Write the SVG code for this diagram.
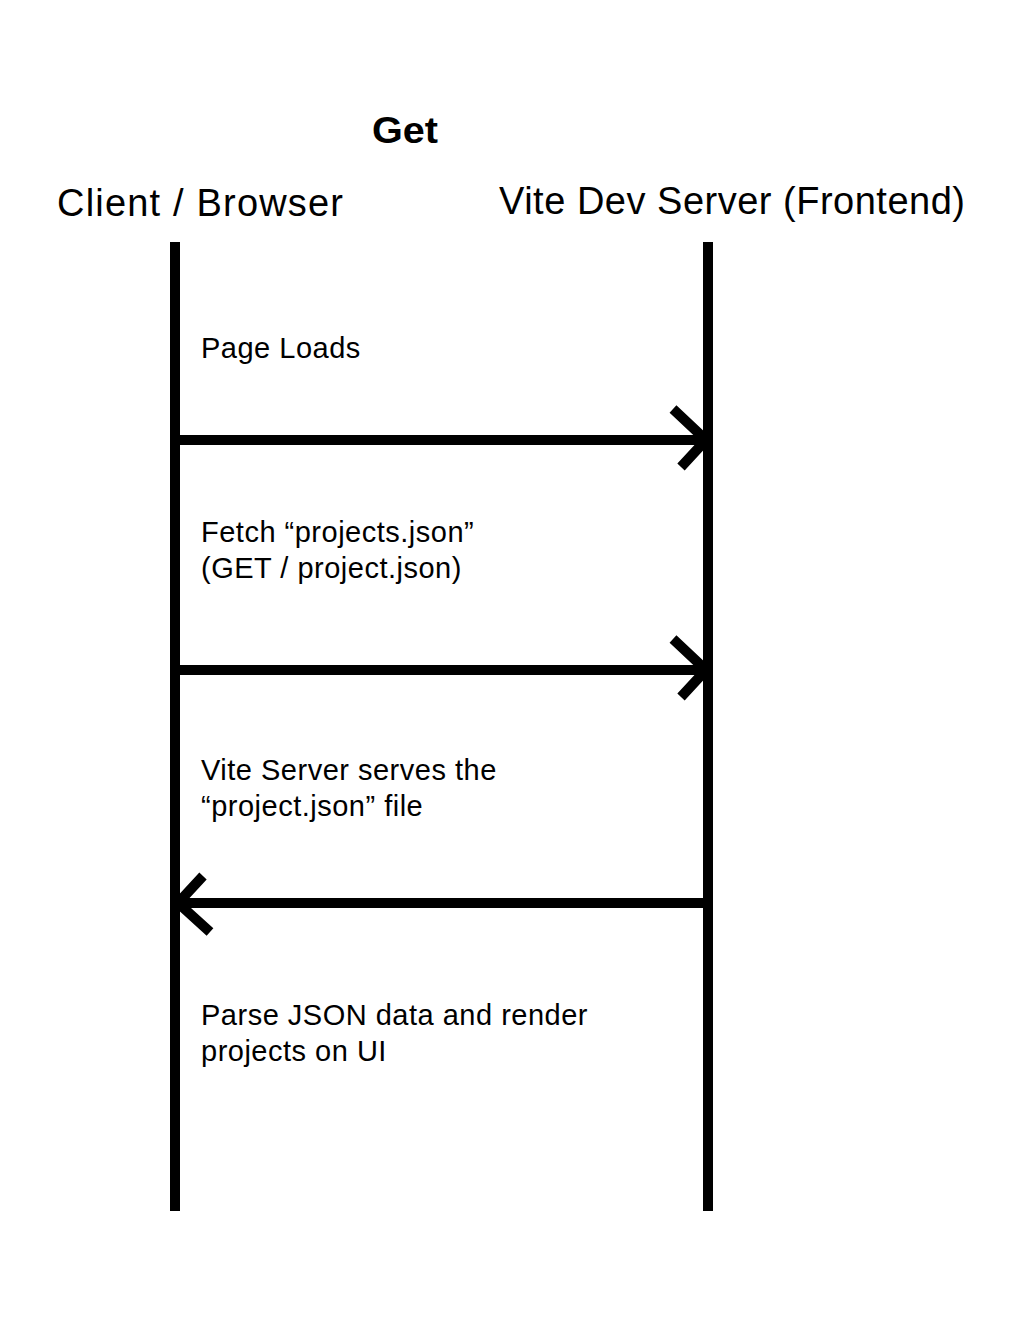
<svg xmlns="http://www.w3.org/2000/svg" width="1016" height="1320" viewBox="0 0 1016 1320">
<style>
.hdr{font-family:"Liberation Sans",Arial,sans-serif;font-size:38px;fill:#000}
.ttl{font-family:"Liberation Sans",Arial,sans-serif;font-size:37px;font-weight:bold;fill:#000}
.lbl{font-family:"Liberation Sans",Arial,sans-serif;font-size:29px;letter-spacing:0.5px;fill:#000}
.life{stroke:#000;stroke-width:10;fill:none}
.msg{stroke:#000;stroke-width:10;fill:none}
.head{stroke:#000;stroke-width:10;fill:none;stroke-linecap:butt;stroke-linejoin:miter}
</style>
<rect width="1016" height="1320" fill="#fff"/>
<g id="title"><text class="ttl" x="372" y="143" textLength="66" lengthAdjust="spacingAndGlyphs">Get</text></g>
<g id="client">
<text class="hdr" x="57" y="216" textLength="286">Client / Browser</text>
<line class="life" x1="175" y1="242" x2="175" y2="1211"/>
</g>
<g id="server">
<text class="hdr" x="499" y="214" textLength="466">Vite Dev Server (Frontend)</text>
<line class="life" x1="708" y1="242" x2="708" y2="1211"/>
</g>
<g id="connectors">
<line class="msg" x1="175" y1="440" x2="706" y2="440"/>
<polyline class="head" points="673,409 706,440 681,467"/>
<line class="msg" x1="175" y1="670" x2="706" y2="670"/>
<polyline class="head" points="673,639 706,670 681,697"/>
<line class="msg" x1="708" y1="903" x2="178" y2="903"/>
<polyline class="head" points="203,876 178,903 210,932"/>
</g>
<g id="labels">
<text class="lbl" x="201" y="358">Page Loads</text>
<text class="lbl" x="201" y="542">Fetch “projects.json”</text>
<text class="lbl" x="201" y="578">(GET / project.json)</text>
<text class="lbl" x="201" y="780">Vite Server serves the</text>
<text class="lbl" x="201" y="816">“project.json” file</text>
<text class="lbl" x="201" y="1025">Parse JSON data and render</text>
<text class="lbl" x="201" y="1061">projects on UI</text>
</g>
</svg>
